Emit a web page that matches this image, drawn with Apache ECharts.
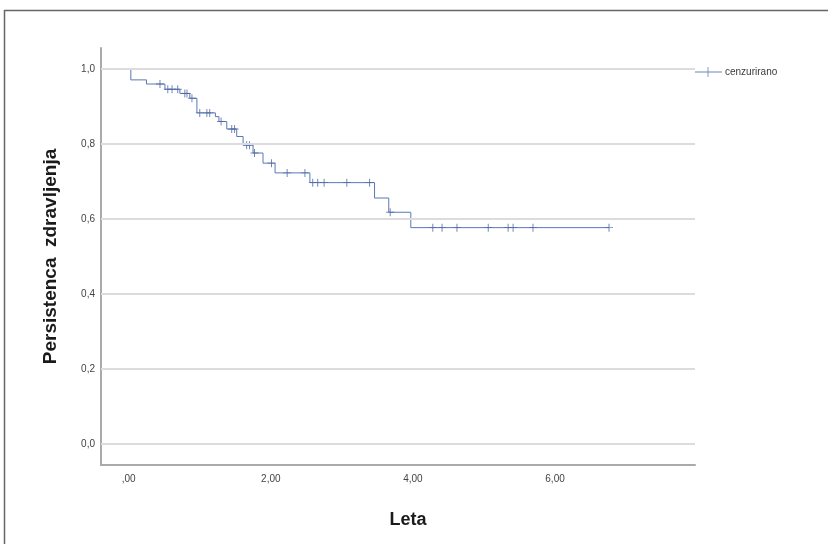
<!DOCTYPE html>
<html>
<head>
<meta charset="utf-8">
<script src="https://cdn.jsdelivr.net/npm/echarts@6/dist/echarts.min.js"></script>
<style>
html,body{margin:0;padding:0;background:#fff;}
#chart{width:828px;height:544px;}
</style>
</head>
<body>
<div id="chart"></div>
<script>
// Kaplan-Meier step curve: time (years) of each drop and survival after it
const stepTimes = [0, 0.03, 0.25, 0.51, 0.72, 0.86, 0.96, 1.22, 1.27, 1.38, 1.52, 1.61, 1.75, 1.89, 2.06, 2.55, 3.46, 3.66, 3.97, 6.76];
const survival  = [1.0, 0.971, 0.96, 0.946, 0.935, 0.922, 0.883, 0.873, 0.86, 0.84, 0.82, 0.797, 0.776, 0.749, 0.723, 0.697, 0.656, 0.618, 0.577, 0.577];
// Censored observations
const censorTimes  = [0.44, 0.55, 0.61, 0.69, 0.79, 0.82, 0.89, 1.00, 1.10, 1.14, 1.30, 1.45, 1.49, 1.66, 1.70, 1.77, 2.01, 2.23, 2.48, 2.59, 2.66, 2.75, 3.07, 3.39, 3.68, 4.28, 4.41, 4.62, 5.06, 5.34, 5.41, 5.69, 6.76];
const censorValues = [0.96, 0.946, 0.946, 0.946, 0.935, 0.935, 0.922, 0.883, 0.883, 0.883, 0.86, 0.84, 0.84, 0.797, 0.797, 0.776, 0.749, 0.723, 0.723, 0.697, 0.697, 0.697, 0.697, 0.697, 0.618, 0.577, 0.577, 0.577, 0.577, 0.577, 0.577, 0.577, 0.577];
// Axis ticks
const xTicks = [0, 2, 4, 6];
const xTickLabels = [',00', '2,00', '4,00', '6,00'];
const yTicks = [0, 0.2, 0.4, 0.6, 0.8, 1.0];
const yTickLabels = ['0,0', '0,2', '0,4', '0,6', '0,8', '1,0'];
const legendName = 'cenzurirano';
const xTitle = 'Leta';
const yTitle = 'Persistenca  zdravljenja';

const lineColor = '#5a78b8';
const plusPath = 'path://M4.4,0h1.2v10h-1.2z M0,4.4h10v1.2h-10z';

const chart = echarts.init(document.getElementById('chart'), null, {renderer: 'canvas'});
const option = {
  animation: false,
  backgroundColor: '#fff',
  textStyle: {fontFamily: 'Liberation Sans, Arial, sans-serif'},
  grid: {left: 101, right: 133, top: 48, bottom: 79, containLabel: false},
  legend: {
    data: [{name: legendName, icon: 'path://M0,4.6h27v0.8h-27z M12.6,0h0.8v10h-0.8z'}],
    left: 695, top: 67, padding: 0, itemWidth: 27, itemHeight: 10, itemGap: 4,
    textStyle: {fontSize: 10, color: '#3a3a3a', padding: [0, 0, 0, -2]},
    selectedMode: false
  },
  xAxis: {
    type: 'value', min: -0.39, max: 7.97,
    name: xTitle, nameLocation: 'middle', nameGap: 46,
    nameTextStyle: {fontSize: 18, fontWeight: 'bold', color: '#1a1a1a', padding: [0, 0, 0, 20]},
    axisLine: {show: true, onZero: false, lineStyle: {color: '#aaa', width: 2}},
    axisTick: {show: false},
    splitLine: {show: false},
    axisLabel: {
      customValues: xTicks, fontSize: 10, color: '#444', margin: 9,
      formatter: v => xTickLabels[xTicks.indexOf(v)]
    }
  },
  yAxis: {
    type: 'value', min: -0.056, max: 1.056,
    name: yTitle, nameLocation: 'middle', nameGap: 41, nameRotate: 90,
    nameTextStyle: {fontSize: 19, fontWeight: 'bold', color: '#1a1a1a'},
    axisLine: {show: true, onZero: false, lineStyle: {color: '#aaa', width: 2}},
    axisTick: {show: false},
    splitLine: {show: false},
    axisLabel: {
      customValues: yTicks, fontSize: 10, color: '#444', margin: 6,
      formatter: v => yTickLabels[yTicks.findIndex(t => Math.abs(t - v) < 1e-6)]
    }
  },
  graphic: [
    {type: 'line', shape: {x1: 4, y1: 10.5, x2: 828, y2: 10.5}, style: {stroke: '#666', lineWidth: 1.5}, silent: true},
    {type: 'line', shape: {x1: 4.5, y1: 10, x2: 4.5, y2: 544}, style: {stroke: '#666', lineWidth: 1.5}, silent: true}
  ],
  series: [
    {
      name: 'grid', type: 'scatter', data: [], z: 1, silent: true,
      markLine: {
        silent: true, symbol: 'none', label: {show: false},
        lineStyle: {color: '#dcdcdc', width: 2, type: 'solid'},
        data: yTicks.map(v => ({yAxis: v}))
      }
    },
    {
      name: 'survival', type: 'line', step: 'end', z: 3,
      data: stepTimes.map((t, i) => [t, survival[i]]),
      showSymbol: false, symbol: 'none',
      lineStyle: {color: lineColor, width: 1},
      itemStyle: {color: lineColor}
    },
    {
      name: legendName, type: 'scatter', z: 4,
      data: censorTimes.map((t, i) => [t, censorValues[i]]),
      symbol: plusPath, symbolSize: 8,
      itemStyle: {color: '#4a64a3'}
    }
  ]
};
chart.setOption(option);
</script>
</body>
</html>
